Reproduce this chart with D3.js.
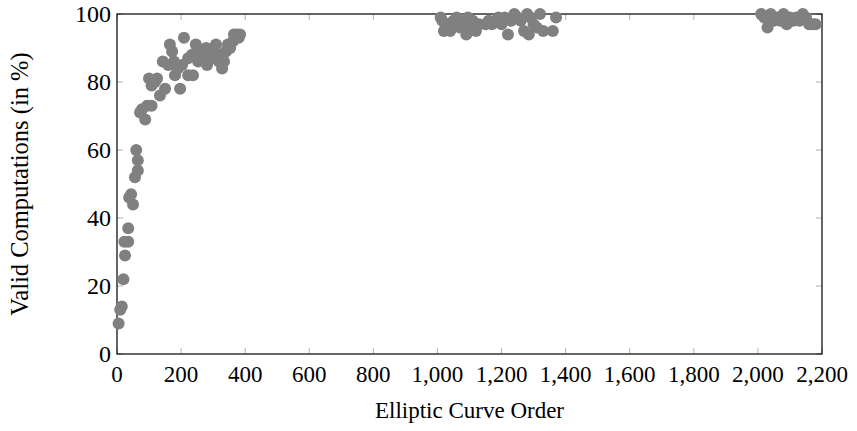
<!DOCTYPE html>
<html>
<head>
<meta charset="utf-8">
<script src="https://cdn.jsdelivr.net/npm/d3@7"></script>
<style>
  body { margin: 0; background: #fff; }
  text { font-family: "Liberation Serif", "DejaVu Serif", serif; }
</style>
</head>
<body>
<svg id="chart" width="857" height="431"></svg>
<script>
// curve order vs. share of valid computations (%)
const orders = [
  5, 10, 15, 20, 25, 23, 35, 35, 38, 44, 50, 56, 65, 65, 60,
  72, 78, 88, 94, 100, 108, 108, 118, 125, 134, 150, 143, 160, 165, 172,
  178, 181, 190, 197, 203, 209, 222, 222, 234, 237, 246, 253, 259, 268, 278,
  281, 287, 293, 303, 309, 318, 324, 328, 334, 340, 346, 353, 362, 365, 374,
  380, 384,
  1010, 1015, 1020, 1030, 1040, 1050, 1060, 1070, 1080, 1090, 1095, 1100, 1110, 1120, 1130,
  1150, 1160, 1170, 1180, 1190, 1200, 1210, 1220, 1230, 1240, 1250, 1260, 1270, 1280, 1285,
  1290, 1300, 1310, 1320, 1330, 1360, 1370,
  2010, 2020, 2030, 2040, 2050, 2060, 2070, 2080, 2090, 2100, 2110, 2120, 2130, 2140, 2150,
  2160, 2170, 2180
];
const valid = [
  9, 13, 14, 22, 29, 33, 33, 37, 46, 47, 44, 52, 54, 57, 60,
  71, 72, 69, 73, 81, 73, 79, 80, 81, 76, 78, 86, 85, 91, 89,
  86, 82, 84, 78, 85, 93, 82, 87, 88, 82, 91, 86, 89, 88, 90,
  85, 89, 87, 90, 91, 86, 88, 84, 86, 89, 91, 90, 92, 94, 94,
  93, 94,
  99, 98, 95, 97, 95, 98, 99, 96, 97, 94, 99, 96, 98, 95, 97,
  97, 98, 97, 98, 99, 97, 99, 94, 98, 100, 99, 98, 95, 100, 94,
  99, 97, 96, 100, 95, 95, 99,
  100, 99, 96, 100, 98, 99, 98, 100, 97, 99, 98, 99, 98, 100, 99,
  97, 97, 97
];
const xTicks = [0, 200, 400, 600, 800, 1000, 1200, 1400, 1600, 1800, 2000, 2200];
const yTicks = [0, 20, 40, 60, 80, 100];

const svg = d3.select("#chart");
const pLeft = 117, pRight = 822, pTop = 14, pBottom = 354;
const fs = 23;

const x = d3.scaleLinear().domain([0, 2200]).range([pLeft, pRight]);
const y = d3.scaleLinear().domain([0, 100]).range([pBottom, pTop]);
const fmt = d3.format(",");

// inward ticks on all four sides
const tick = 6;
const g = svg.append("g").attr("stroke", "#a0a0a0").attr("stroke-width", 0.8);
xTicks.forEach(function (t) {
  g.append("line").attr("x1", x(t)).attr("x2", x(t)).attr("y1", pBottom).attr("y2", pBottom - tick);
  g.append("line").attr("x1", x(t)).attr("x2", x(t)).attr("y1", pTop).attr("y2", pTop + tick);
});
yTicks.forEach(function (t) {
  g.append("line").attr("x1", pLeft).attr("x2", pLeft + tick).attr("y1", y(t)).attr("y2", y(t));
  g.append("line").attr("x1", pRight).attr("x2", pRight - tick).attr("y1", y(t)).attr("y2", y(t));
});

svg.append("rect")
  .attr("x", pLeft).attr("y", pTop)
  .attr("width", pRight - pLeft).attr("height", pBottom - pTop)
  .attr("fill", "none").attr("stroke", "#000").attr("stroke-width", 1.2);

svg.append("g").selectAll("text").data(xTicks).enter().append("text")
  .attr("x", (d) => x(d)).attr("y", pBottom + 28)
  .attr("text-anchor", "middle").attr("font-size", fs)
  .text((d) => fmt(d));

svg.append("g").selectAll("text").data(yTicks).enter().append("text")
  .attr("x", pLeft - 6).attr("y", (d) => y(d) + 8)
  .attr("text-anchor", "end").attr("font-size", 24)
  .text((d) => d);

svg.append("text")
  .attr("x", (pLeft + pRight) / 2).attr("y", 418)
  .attr("text-anchor", "middle").attr("font-size", fs)
  .text("Elliptic Curve Order");

svg.append("text")
  .attr("transform", "translate(28," + (pTop + pBottom) / 2 + ") rotate(-90)")
  .attr("text-anchor", "middle").attr("font-size", 24.5)
  .text("Valid Computations (in %)");

svg.append("g").selectAll("circle").data(d3.range(orders.length)).enter().append("circle")
  .attr("cx", (i) => x(orders[i]))
  .attr("cy", (i) => y(valid[i]))
  .attr("r", 6)
  .attr("fill", "#808080");
</script>
</body>
</html>
